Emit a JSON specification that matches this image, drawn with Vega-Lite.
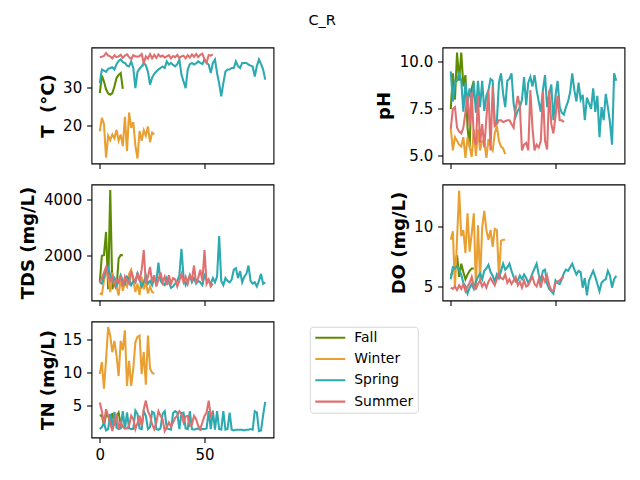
{
  "$schema": "https://vega.github.io/schema/vega-lite/v6.json",
  "padding": {"left": 18.5, "top": 12.5, "right": 5, "bottom": 5},
  "title": {"text": "C_R", "font": "DejaVu Sans", "fontSize": 14.5, "fontWeight": "normal", "color": "black", "anchor": "middle", "offset": 7, "baseline": "alphabetic"},
  "data": {"values": [
    {"season":"Fall","i":0,"T":28.5,"pH":7.5,"TDS":1050,"DO":5.9,"TN":3.5},
    {"season":"Fall","i":1,"T":33.0,"pH":9.4,"TDS":2000,"DO":6.3,"TN":3.6},
    {"season":"Fall","i":2,"T":31.5,"pH":8.0,"TDS":2020,"DO":6.9,"TN":2.0},
    {"season":"Fall","i":3,"T":29.5,"pH":10.5,"TDS":2850,"DO":7.6,"TN":3.7},
    {"season":"Fall","i":4,"T":28.4,"pH":9.0,"TDS":800,"DO":5.8,"TN":3.5},
    {"season":"Fall","i":5,"T":28.1,"pH":10.5,"TDS":4350,"DO":6.9,"TN":2.6},
    {"season":"Fall","i":6,"T":28.5,"pH":8.7,"TDS":800,"DO":6.2,"TN":3.9},
    {"season":"Fall","i":7,"T":30.2,"pH":9.3,"TDS":1200,"DO":5.6,"TN":2.5},
    {"season":"Fall","i":8,"T":32.4,"pH":6.5,"TDS":800,"DO":6.0,"TN":3.5},
    {"season":"Fall","i":9,"T":33.2,"pH":5.5,"TDS":1900,"DO":6.3,"TN":4.0},
    {"season":"Fall","i":10,"T":33.7,"pH":8.6,"TDS":2020,"DO":6.5,"TN":2.2},
    {"season":"Fall","i":11,"T":29.6,"pH":9.0,"TDS":2020,"DO":6.5,"TN":2.0},

    {"season":"Winter","i":0,"T":18.6,"pH":6.5,"TDS":650,"DO":8.9,"TN":9.8},
    {"season":"Winter","i":1,"T":22.1,"pH":5.3,"TDS":620,"DO":9.6,"TN":11.6},
    {"season":"Winter","i":2,"T":20.5,"pH":6.0,"TDS":1100,"DO":4.9,"TN":7.6},
    {"season":"Winter","i":3,"T":11.8,"pH":5.8,"TDS":1450,"DO":9.0,"TN":12.0},
    {"season":"Winter","i":4,"T":17.5,"pH":5.6,"TDS":1250,"DO":13.0,"TN":16.9},
    {"season":"Winter","i":5,"T":16.3,"pH":5.5,"TDS":700,"DO":9.2,"TN":15.6},
    {"season":"Winter","i":6,"T":17.8,"pH":6.0,"TDS":1400,"DO":9.7,"TN":13.1},
    {"season":"Winter","i":7,"T":16.8,"pH":4.9,"TDS":1100,"DO":7.8,"TN":14.8},
    {"season":"Winter","i":8,"T":19.0,"pH":6.0,"TDS":900,"DO":11.1,"TN":12.6},
    {"season":"Winter","i":9,"T":16.2,"pH":5.5,"TDS":580,"DO":7.9,"TN":9.5},
    {"season":"Winter","i":10,"T":17.8,"pH":4.95,"TDS":1200,"DO":9.4,"TN":14.8},
    {"season":"Winter","i":11,"T":14.8,"pH":6.4,"TDS":750,"DO":11.1,"TN":13.4},
    {"season":"Winter","i":12,"T":22.4,"pH":5.0,"TDS":1050,"DO":4.9,"TN":16.4},
    {"season":"Winter","i":13,"T":13.5,"pH":6.4,"TDS":900,"DO":10.1,"TN":8.0},
    {"season":"Winter","i":14,"T":23.5,"pH":5.3,"TDS":1350,"DO":5.5,"TN":11.8},
    {"season":"Winter","i":15,"T":19.5,"pH":5.8,"TDS":1500,"DO":9.9,"TN":8.0},
    {"season":"Winter","i":16,"T":21.0,"pH":5.8,"TDS":1100,"DO":11.3,"TN":10.6},
    {"season":"Winter","i":17,"T":15.0,"pH":4.9,"TDS":700,"DO":9.7,"TN":14.6},
    {"season":"Winter","i":18,"T":11.6,"pH":5.9,"TDS":1000,"DO":8.9,"TN":15.4},
    {"season":"Winter","i":19,"T":18.7,"pH":5.5,"TDS":600,"DO":9.7,"TN":15.6},
    {"season":"Winter","i":20,"T":16.2,"pH":5.3,"TDS":1250,"DO":8.3,"TN":9.8},
    {"season":"Winter","i":21,"T":18.9,"pH":6.2,"TDS":800,"DO":9.8,"TN":13.1},
    {"season":"Winter","i":22,"T":17.5,"pH":6.6,"TDS":1050,"DO":9.7,"TN":8.2},
    {"season":"Winter","i":23,"T":19.9,"pH":5.8,"TDS":650,"DO":5.8,"TN":15.6},
    {"season":"Winter","i":24,"T":15.8,"pH":5.5,"TDS":900,"DO":8.8,"TN":10.6},
    {"season":"Winter","i":25,"T":18.3,"pH":5.4,"TDS":700,"DO":8.9,"TN":10.0},
    {"season":"Winter","i":26,"T":17.8,"pH":5.1,"TDS":680,"DO":8.9,"TN":9.8},

    {"season":"Spring","i":0,"T":31.1,"pH":9.5,"TDS":1050,"DO":5.6,"TN":1.5},
    {"season":"Spring","i":1,"T":34.6,"pH":7.9,"TDS":1000,"DO":6.6,"TN":1.8},
    {"season":"Spring","i":2,"T":34.3,"pH":8.9,"TDS":1250,"DO":6.5,"TN":2.4},
    {"season":"Spring","i":3,"T":34.0,"pH":9.0,"TDS":1500,"DO":6.7,"TN":1.3},
    {"season":"Spring","i":4,"T":34.8,"pH":9.4,"TDS":1600,"DO":6.4,"TN":1.5},
    {"season":"Spring","i":5,"T":35.0,"pH":9.0,"TDS":1300,"DO":6.0,"TN":3.8},
    {"season":"Spring","i":6,"T":35.2,"pH":7.35,"TDS":1100,"DO":5.3,"TN":1.6},
    {"season":"Spring","i":7,"T":34.6,"pH":8.9,"TDS":1200,"DO":5.0,"TN":4.1},
    {"season":"Spring","i":8,"T":36.0,"pH":7.9,"TDS":950,"DO":4.4,"TN":1.7},
    {"season":"Spring","i":9,"T":36.8,"pH":8.6,"TDS":1050,"DO":4.9,"TN":1.5},
    {"season":"Spring","i":10,"T":37.2,"pH":7.6,"TDS":1300,"DO":5.2,"TN":1.6},
    {"season":"Spring","i":11,"T":36.5,"pH":8.9,"TDS":1100,"DO":4.8,"TN":4.2},
    {"season":"Spring","i":12,"T":36.3,"pH":7.3,"TDS":1000,"DO":5.4,"TN":1.5},
    {"season":"Spring","i":13,"T":35.6,"pH":9.0,"TDS":1250,"DO":5.8,"TN":4.0},
    {"season":"Spring","i":14,"T":35.4,"pH":7.6,"TDS":1150,"DO":6.1,"TN":1.6},
    {"season":"Spring","i":15,"T":36.7,"pH":9.0,"TDS":950,"DO":5.6,"TN":1.5},
    {"season":"Spring","i":16,"T":35.0,"pH":7.4,"TDS":1100,"DO":6.3,"TN":1.5},
    {"season":"Spring","i":17,"T":29.8,"pH":8.2,"TDS":1050,"DO":6.5,"TN":4.3},
    {"season":"Spring","i":18,"T":34.0,"pH":8.5,"TDS":1400,"DO":6.8,"TN":3.8},
    {"season":"Spring","i":19,"T":34.8,"pH":9.1,"TDS":1150,"DO":6.2,"TN":1.6},
    {"season":"Spring","i":20,"T":35.4,"pH":9.0,"TDS":900,"DO":5.9,"TN":1.5},
    {"season":"Spring","i":21,"T":36.3,"pH":6.7,"TDS":1050,"DO":5.4,"TN":4.2},
    {"season":"Spring","i":22,"T":35.7,"pH":6.8,"TDS":1300,"DO":6.0,"TN":3.5},
    {"season":"Spring","i":23,"T":34.0,"pH":8.9,"TDS":1000,"DO":5.7,"TN":1.5},
    {"season":"Spring","i":24,"T":30.7,"pH":9.4,"TDS":1100,"DO":6.3,"TN":1.8},
    {"season":"Spring","i":25,"T":32.5,"pH":8.3,"TDS":950,"DO":6.9,"TN":4.1},
    {"season":"Spring","i":26,"T":33.5,"pH":7.6,"TDS":1200,"DO":6.4,"TN":3.9},
    {"season":"Spring","i":27,"T":34.1,"pH":9.0,"TDS":1050,"DO":6.6,"TN":1.5},
    {"season":"Spring","i":28,"T":34.6,"pH":9.1,"TDS":1750,"DO":6.9,"TN":1.4},
    {"season":"Spring","i":29,"T":35.0,"pH":9.4,"TDS":1100,"DO":6.3,"TN":1.6},
    {"season":"Spring","i":30,"T":35.4,"pH":7.8,"TDS":1000,"DO":5.8,"TN":3.8},
    {"season":"Spring","i":31,"T":35.0,"pH":7.1,"TDS":950,"DO":5.4,"TN":4.2},
    {"season":"Spring","i":32,"T":36.7,"pH":7.4,"TDS":1200,"DO":5.5,"TN":1.6},
    {"season":"Spring","i":33,"T":35.9,"pH":7.6,"TDS":1050,"DO":5.9,"TN":1.5},
    {"season":"Spring","i":34,"T":36.3,"pH":8.0,"TDS":850,"DO":5.6,"TN":1.4},
    {"season":"Spring","i":35,"T":35.8,"pH":9.2,"TDS":900,"DO":6.0,"TN":3.9},
    {"season":"Spring","i":36,"T":35.4,"pH":7.7,"TDS":1000,"DO":5.7,"TN":4.2},
    {"season":"Spring","i":37,"T":36.0,"pH":8.9,"TDS":1100,"DO":5.3,"TN":4.0},
    {"season":"Spring","i":38,"T":37.2,"pH":9.2,"TDS":1300,"DO":5.6,"TN":1.5},
    {"season":"Spring","i":39,"T":33.3,"pH":8.7,"TDS":2250,"DO":6.1,"TN":3.9},
    {"season":"Spring","i":40,"T":31.5,"pH":9.3,"TDS":1250,"DO":6.5,"TN":4.0},
    {"season":"Spring","i":41,"T":29.8,"pH":8.5,"TDS":950,"DO":6.9,"TN":1.6},
    {"season":"Spring","i":42,"T":34.6,"pH":7.9,"TDS":1100,"DO":6.0,"TN":1.5},
    {"season":"Spring","i":43,"T":36.0,"pH":7.35,"TDS":1300,"DO":5.5,"TN":4.2},
    {"season":"Spring","i":44,"T":36.3,"pH":8.5,"TDS":1050,"DO":6.3,"TN":1.5},
    {"season":"Spring","i":45,"T":35.9,"pH":9.3,"TDS":1200,"DO":6.4,"TN":1.4},
    {"season":"Spring","i":46,"T":36.2,"pH":7.6,"TDS":1000,"DO":5.2,"TN":1.5},
    {"season":"Spring","i":47,"T":36.7,"pH":8.3,"TDS":1100,"DO":4.8,"TN":1.6},
    {"season":"Spring","i":48,"T":36.3,"pH":8.8,"TDS":1050,"DO":4.6,"TN":1.4},
    {"season":"Spring","i":49,"T":36.0,"pH":6.9,"TDS":950,"DO":4.4,"TN":1.5},
    {"season":"Spring","i":50,"T":37.2,"pH":8.2,"TDS":1300,"DO":5.5,"TN":1.5},
    {"season":"Spring","i":51,"T":36.3,"pH":9.0,"TDS":1150,"DO":5.3,"TN":1.6},
    {"season":"Spring","i":52,"T":35.9,"pH":7.6,"TDS":1100,"DO":5.2,"TN":4.2},
    {"season":"Spring","i":53,"T":33.7,"pH":7.3,"TDS":1000,"DO":5.6,"TN":1.5},
    {"season":"Spring","i":54,"T":36.3,"pH":7.2,"TDS":1200,"DO":6.1,"TN":4.3},
    {"season":"Spring","i":55,"T":37.2,"pH":7.6,"TDS":1050,"DO":6.4,"TN":1.4},
    {"season":"Spring","i":56,"T":33.7,"pH":7.9,"TDS":1250,"DO":6.3,"TN":4.2},
    {"season":"Spring","i":57,"T":31.0,"pH":8.4,"TDS":2700,"DO":6.6,"TN":1.5},
    {"season":"Spring","i":58,"T":27.7,"pH":9.4,"TDS":1100,"DO":6.9,"TN":1.4},
    {"season":"Spring","i":59,"T":31.1,"pH":8.5,"TDS":950,"DO":6.4,"TN":4.2},
    {"season":"Spring","i":60,"T":34.1,"pH":7.9,"TDS":1200,"DO":6.0,"TN":1.4},
    {"season":"Spring","i":61,"T":34.6,"pH":8.9,"TDS":1100,"DO":6.3,"TN":1.5},
    {"season":"Spring","i":62,"T":34.6,"pH":8.0,"TDS":1050,"DO":6.2,"TN":4.0},
    {"season":"Spring","i":63,"T":35.0,"pH":8.25,"TDS":1150,"DO":4.9,"TN":1.4},
    {"season":"Spring","i":64,"T":35.0,"pH":6.9,"TDS":1500,"DO":5.7,"TN":1.3},
    {"season":"Spring","i":65,"T":36.7,"pH":8.1,"TDS":1550,"DO":4.25,"TN":1.4},
    {"season":"Spring","i":66,"T":35.5,"pH":7.8,"TDS":1200,"DO":5.5,"TN":1.4},
    {"season":"Spring","i":67,"T":35.0,"pH":7.5,"TDS":1450,"DO":5.9,"TN":1.4},
    {"season":"Spring","i":68,"T":36.3,"pH":8.6,"TDS":1050,"DO":6.3,"TN":1.4},
    {"season":"Spring","i":69,"T":36.3,"pH":7.35,"TDS":1250,"DO":5.8,"TN":1.3},
    {"season":"Spring","i":70,"T":36.3,"pH":8.2,"TDS":1350,"DO":5.2,"TN":1.4},
    {"season":"Spring","i":71,"T":35.9,"pH":6.0,"TDS":1650,"DO":4.6,"TN":1.4},
    {"season":"Spring","i":72,"T":35.6,"pH":7.6,"TDS":1100,"DO":5.3,"TN":1.5},
    {"season":"Spring","i":73,"T":35.4,"pH":6.9,"TDS":1000,"DO":5.5,"TN":1.4},
    {"season":"Spring","i":74,"T":32.8,"pH":8.3,"TDS":1050,"DO":5.6,"TN":4.2},
    {"season":"Spring","i":75,"T":35.5,"pH":7.6,"TDS":900,"DO":6.3,"TN":4.0},
    {"season":"Spring","i":76,"T":37.2,"pH":6.8,"TDS":1100,"DO":5.9,"TN":1.2},
    {"season":"Spring","i":77,"T":36.0,"pH":5.6,"TDS":1350,"DO":4.9,"TN":1.3},
    {"season":"Spring","i":78,"T":34.6,"pH":9.4,"TDS":1000,"DO":5.6,"TN":3.6},
    {"season":"Spring","i":79,"T":32.0,"pH":9.0,"TDS":1050,"DO":5.9,"TN":5.6},

    {"season":"Summer","i":0,"T":37.8,"pH":6.45,"TDS":1050,"DO":4.9,"TN":5.5},
    {"season":"Summer","i":1,"T":37.9,"pH":7.5,"TDS":1200,"DO":4.8,"TN":4.2},
    {"season":"Summer","i":2,"T":38.1,"pH":7.6,"TDS":1400,"DO":5.0,"TN":2.3},
    {"season":"Summer","i":3,"T":38.9,"pH":6.5,"TDS":1600,"DO":4.7,"TN":4.5},
    {"season":"Summer","i":4,"T":38.2,"pH":6.3,"TDS":1300,"DO":5.1,"TN":3.5},
    {"season":"Summer","i":5,"T":38.0,"pH":6.2,"TDS":1100,"DO":4.8,"TN":2.4},
    {"season":"Summer","i":6,"T":37.5,"pH":6.5,"TDS":1250,"DO":5.2,"TN":1.2},
    {"season":"Summer","i":7,"T":38.3,"pH":7.3,"TDS":950,"DO":4.6,"TN":2.5},
    {"season":"Summer","i":8,"T":37.8,"pH":8.2,"TDS":1150,"DO":5.0,"TN":3.8},
    {"season":"Summer","i":9,"T":38.0,"pH":6.6,"TDS":1050,"DO":5.3,"TN":1.5},
    {"season":"Summer","i":10,"T":38.4,"pH":8.4,"TDS":1300,"DO":5.8,"TN":2.5},
    {"season":"Summer","i":11,"T":37.6,"pH":6.0,"TDS":900,"DO":5.0,"TN":1.8},
    {"season":"Summer","i":12,"T":38.2,"pH":5.6,"TDS":1250,"DO":4.8,"TN":1.6},
    {"season":"Summer","i":13,"T":38.5,"pH":8.2,"TDS":1100,"DO":5.2,"TN":1.6},
    {"season":"Summer","i":14,"T":37.8,"pH":5.7,"TDS":1000,"DO":5.5,"TN":2.0},
    {"season":"Summer","i":15,"T":37.3,"pH":6.7,"TDS":1450,"DO":5.0,"TN":3.5},
    {"season":"Summer","i":16,"T":38.3,"pH":5.45,"TDS":1200,"DO":5.3,"TN":3.0},
    {"season":"Summer","i":17,"T":38.0,"pH":7.0,"TDS":1050,"DO":4.9,"TN":1.5},
    {"season":"Summer","i":18,"T":37.9,"pH":8.5,"TDS":1350,"DO":5.4,"TN":2.4},
    {"season":"Summer","i":19,"T":38.1,"pH":5.3,"TDS":1100,"DO":5.7,"TN":3.5},
    {"season":"Summer","i":20,"T":38.6,"pH":8.7,"TDS":1500,"DO":5.4,"TN":2.0},
    {"season":"Summer","i":21,"T":36.2,"pH":6.6,"TDS":2200,"DO":5.1,"TN":4.5},
    {"season":"Summer","i":22,"T":38.0,"pH":6.7,"TDS":1000,"DO":5.6,"TN":5.8},
    {"season":"Summer","i":23,"T":37.4,"pH":6.9,"TDS":1250,"DO":6.1,"TN":4.2},
    {"season":"Summer","i":24,"T":38.6,"pH":6.9,"TDS":1600,"DO":5.7,"TN":3.5},
    {"season":"Summer","i":25,"T":37.5,"pH":6.8,"TDS":1050,"DO":5.6,"TN":2.2},
    {"season":"Summer","i":26,"T":38.4,"pH":6.85,"TDS":1300,"DO":6.0,"TN":1.5},
    {"season":"Summer","i":27,"T":37.6,"pH":6.9,"TDS":900,"DO":5.3,"TN":2.5},
    {"season":"Summer","i":28,"T":38.5,"pH":6.9,"TDS":1150,"DO":5.6,"TN":4.2},
    {"season":"Summer","i":29,"T":37.9,"pH":6.7,"TDS":1400,"DO":5.2,"TN":3.5},
    {"season":"Summer","i":30,"T":38.2,"pH":6.5,"TDS":1050,"DO":5.5,"TN":3.0},
    {"season":"Summer","i":31,"T":37.7,"pH":7.5,"TDS":1250,"DO":5.8,"TN":1.2},
    {"season":"Summer","i":32,"T":38.0,"pH":8.2,"TDS":950,"DO":5.1,"TN":1.8},
    {"season":"Summer","i":33,"T":38.3,"pH":7.6,"TDS":1300,"DO":5.4,"TN":2.5},
    {"season":"Summer","i":34,"T":37.5,"pH":5.3,"TDS":1000,"DO":4.9,"TN":1.9},
    {"season":"Summer","i":35,"T":38.1,"pH":5.6,"TDS":1200,"DO":5.5,"TN":2.5},
    {"season":"Summer","i":36,"T":37.8,"pH":5.7,"TDS":1150,"DO":5.0,"TN":3.2},
    {"season":"Summer","i":37,"T":38.4,"pH":5.3,"TDS":900,"DO":5.1,"TN":3.5},
    {"season":"Summer","i":38,"T":37.6,"pH":8.5,"TDS":1100,"DO":5.5,"TN":4.2},
    {"season":"Summer","i":39,"T":38.0,"pH":6.5,"TDS":1350,"DO":5.8,"TN":3.8},
    {"season":"Summer","i":40,"T":38.2,"pH":5.3,"TDS":1050,"DO":5.2,"TN":2.5},
    {"season":"Summer","i":41,"T":37.5,"pH":5.6,"TDS":1250,"DO":5.0,"TN":3.4},
    {"season":"Summer","i":42,"T":38.3,"pH":5.45,"TDS":1000,"DO":5.6,"TN":3.5},
    {"season":"Summer","i":43,"T":37.7,"pH":5.8,"TDS":1300,"DO":4.9,"TN":2.0},
    {"season":"Summer","i":44,"T":38.5,"pH":8.4,"TDS":1150,"DO":5.8,"TN":2.2},
    {"season":"Summer","i":45,"T":37.9,"pH":5.8,"TDS":1650,"DO":5.4,"TN":3.5},
    {"season":"Summer","i":46,"T":38.6,"pH":5.35,"TDS":1000,"DO":5.9,"TN":3.0},
    {"season":"Summer","i":47,"T":37.8,"pH":8.5,"TDS":1200,"DO":5.1,"TN":2.0},
    {"season":"Summer","i":48,"T":38.4,"pH":6.7,"TDS":1500,"DO":4.7,"TN":1.5},
    {"season":"Summer","i":49,"T":38.7,"pH":6.2,"TDS":1100,"DO":4.6,"TN":2.5},
    {"season":"Summer","i":50,"T":37.2,"pH":7.1,"TDS":2200,"DO":5.3,"TN":3.5},
    {"season":"Summer","i":51,"T":36.4,"pH":8.2,"TDS":1000,"DO":5.4,"TN":4.0},
    {"season":"Summer","i":52,"T":38.3,"pH":6.9,"TDS":1150,"DO":5.5,"TN":5.8},
    {"season":"Summer","i":53,"T":38.2,"pH":6.9,"TDS":900,"DO":5.7,"TN":3.5},
    {"season":"Summer","i":54,"T":38.5,"pH":6.8,"TDS":1000,"DO":5.8,"TN":4.0}
  ]},
  "bounds": "flush",
  "columns": 2,
  "spacing": {"row": 21, "column": 169},
  "resolve": {"scale": {"color": "independent"}, "legend": {"color": "independent"}},
  "concat": [
    {
      "width": 182, "height": 116,
      "mark": {"type": "line", "strokeWidth": 2.08},
      "encoding": {
        "x": {"field": "i", "type": "quantitative", "scale": {"domain": [-3.95, 82.95], "nice": false, "zero": false}, "axis": {"values": [0, 50], "labels": false, "title": null}},
        "y": {"field": "T", "type": "quantitative", "scale": {"domain": [10.3, 40.3], "nice": false, "zero": false}, "axis": {"values": [20, 30], "format": "d", "title": "T\u00a0\u00a0(°C)"}},
        "color": {"field": "season", "type": "nominal", "scale": {"domain": ["Fall", "Winter", "Spring", "Summer"], "range": ["#5e8c00", "#e9a032", "#2caab0", "#e07070"]}, "legend": null}
      }
    },
    {
      "width": 182, "height": 116,
      "mark": {"type": "line", "strokeWidth": 2.08},
      "encoding": {
        "x": {"field": "i", "type": "quantitative", "scale": {"domain": [-3.95, 82.95], "nice": false, "zero": false}, "axis": {"values": [0, 50], "labels": false, "title": null}},
        "y": {"field": "pH", "type": "quantitative", "scale": {"domain": [4.6, 10.77], "nice": false, "zero": false}, "axis": {"values": [5, 7.5, 10], "format": ".1f", "title": "pH"}},
        "color": {"field": "season", "type": "nominal", "scale": {"domain": ["Fall", "Winter", "Spring", "Summer"], "range": ["#5e8c00", "#e9a032", "#2caab0", "#e07070"]}, "legend": null}
      }
    },
    {
      "width": 182, "height": 116,
      "mark": {"type": "line", "strokeWidth": 2.08},
      "encoding": {
        "x": {"field": "i", "type": "quantitative", "scale": {"domain": [-3.95, 82.95], "nice": false, "zero": false}, "axis": {"values": [0, 50], "labels": false, "title": null}},
        "y": {"field": "TDS", "type": "quantitative", "scale": {"domain": [400, 4545], "nice": false, "zero": false}, "axis": {"values": [2000, 4000], "format": "d", "title": "TDS (mg/L)"}},
        "color": {"field": "season", "type": "nominal", "scale": {"domain": ["Fall", "Winter", "Spring", "Summer"], "range": ["#5e8c00", "#e9a032", "#2caab0", "#e07070"]}, "legend": null}
      }
    },
    {
      "width": 182, "height": 116,
      "mark": {"type": "line", "strokeWidth": 2.08},
      "encoding": {
        "x": {"field": "i", "type": "quantitative", "scale": {"domain": [-3.95, 82.95], "nice": false, "zero": false}, "axis": {"values": [0, 50], "labels": false, "title": null}},
        "y": {"field": "DO", "type": "quantitative", "scale": {"domain": [3.83, 13.5], "nice": false, "zero": false}, "axis": {"values": [5, 10], "format": "d", "title": "DO (mg/L)"}},
        "color": {"field": "season", "type": "nominal", "scale": {"domain": ["Fall", "Winter", "Spring", "Summer"], "range": ["#5e8c00", "#e9a032", "#2caab0", "#e07070"]}, "legend": null}
      }
    },
    {
      "width": 182, "height": 116,
      "mark": {"type": "line", "strokeWidth": 2.08},
      "encoding": {
        "x": {"field": "i", "type": "quantitative", "scale": {"domain": [-3.95, 82.95], "nice": false, "zero": false}, "axis": {"values": [0, 50], "format": "d", "title": null}},
        "y": {"field": "TN", "type": "quantitative", "scale": {"domain": [0.23, 17.73], "nice": false, "zero": false}, "axis": {"values": [5, 10, 15], "format": "d", "title": "TN (mg/L)"}},
        "color": {
          "field": "season", "type": "nominal",
          "scale": {"domain": ["Fall", "Winter", "Spring", "Summer"], "range": ["#5e8c00", "#e9a032", "#2caab0", "#e07070"]},
          "legend": {
            "orient": "none", "legendX": 218.3, "legendY": 5.2, "title": null,
            "symbolType": "stroke", "symbolSize": 900, "symbolStrokeWidth": 2.08, "clipHeight": 14,
            "labelFont": "DejaVu Sans", "labelFontSize": 13.9, "labelColor": "black", "labelOffset": 7.5,
            "rowPadding": 7.3, "padding": 4,
            "strokeColor": "#d6d6d6", "fillColor": "white", "cornerRadius": 3
          }
        }
      }
    }
  ],
  "config": {
    "font": "DejaVu Sans",
    "view": {"stroke": "black", "strokeWidth": 1.1},
    "axis": {
      "domain": false, "grid": false,
      "tickColor": "black", "tickSize": 4.9, "tickWidth": 1.1,
      "labelFont": "DejaVu Sans", "labelFontSize": 15, "labelColor": "black", "labelPadding": 4.9,
      "titleFont": "DejaVu Sans", "titleFontSize": 18, "titleFontWeight": "bold", "titleColor": "black", "titlePadding": 5.6
    }
  }
}
